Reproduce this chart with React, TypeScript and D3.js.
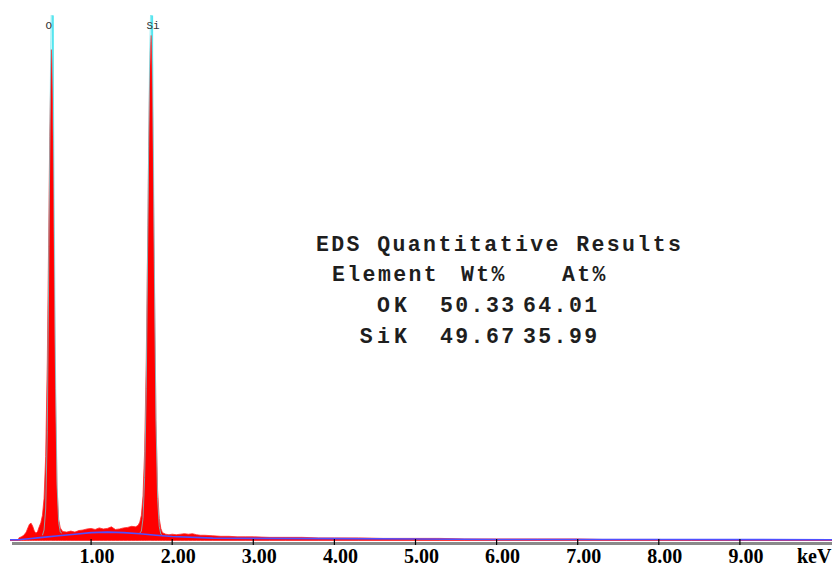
import React from "react";
import * as d3 from "d3";

// Spectrum (energy in keV, counts in arbitrary units)
const energyKeV = [
  0.0, 0.1, 0.11, 0.14, 0.17, 0.2, 0.22, 0.24, 0.26, 0.28, 0.3, 0.32, 0.34, 0.36, 0.38,
  0.4, 0.42, 0.44, 0.46, 0.48, 0.49, 0.5, 0.505, 0.51, 0.515, 0.52, 0.53, 0.54, 0.56, 0.58, 0.6, 0.62, 0.65,
  0.7, 0.75, 0.8, 0.85, 0.9, 0.95, 1.0, 1.05, 1.1, 1.15, 1.2, 1.25, 1.3, 1.35, 1.4, 1.45,
  1.5, 1.55, 1.58, 1.6, 1.62, 1.64, 1.66, 1.68, 1.7, 1.71, 1.72, 1.73, 1.735, 1.74, 1.745, 1.75, 1.76, 1.78,
  1.8, 1.82, 1.84, 1.86, 1.88, 1.92, 1.96, 2.0, 2.05, 2.1, 2.15, 2.2, 2.25, 2.3, 2.35,
  2.4, 2.5, 2.6, 2.7, 2.8, 2.9, 3.0, 3.2, 3.4, 3.6, 3.8, 4.0, 4.3, 4.6, 5.0, 5.3, 5.6,
  6.0, 6.5, 7.0, 7.3, 7.6, 8.0, 8.3, 8.4, 10.3,
];
const counts = [
  0, 0, 5, 7, 10, 16, 24, 31, 33, 27, 18, 14, 17, 26, 34,
  48, 80, 160, 340, 620, 770, 860, 905, 935, 915, 870, 770, 590, 290, 100, 40, 24, 17,
  16, 18, 16, 19, 20, 22, 23, 21, 24, 22, 23, 26, 21, 22, 24, 25,
  27, 26, 29, 35, 48, 85, 170, 340, 600, 750, 860, 930, 950, 962, 945, 900, 800, 500,
  230, 95, 42, 23, 15, 12, 11, 12, 11, 12, 13, 12, 13, 11, 10,
  10, 9, 8, 8, 7, 7, 7, 6, 6, 6, 5, 5, 5, 4, 4, 4, 3,
  3, 3, 3, 2, 2, 2, 1, 0, 0,
];

// Background fit
const bgEnergy = [0.0, 0.1, 0.2, 0.4, 0.6, 0.8, 1.0, 1.2, 1.4, 1.6, 1.8, 2.0, 2.5, 3.0, 4.0, 5.0, 6.0, 7.0, 8.0, 9.0, 10.3];
const bgCounts = [1.5, 1.5, 3, 6, 9, 12, 15, 16, 15, 13, 10, 7.5, 4.5, 4, 3.5, 3, 2, 2, 1.8, 1.6, 1.5];

// Peak fits
const fitOEnergy = [0.4, 0.42, 0.44, 0.46, 0.48, 0.5, 0.51, 0.52, 0.53, 0.54, 0.56, 0.58, 0.6, 0.62, 0.64];
const fitOCounts = [10, 20, 60, 210, 560, 910, 1020, 1050, 980, 760, 340, 110, 34, 16, 14];
const fitSiEnergy = [1.6, 1.62, 1.64, 1.66, 1.68, 1.7, 1.72, 1.74, 1.76, 1.78, 1.8, 1.82, 1.84, 1.86, 1.88];
const fitSiCounts = [14, 18, 42, 120, 290, 600, 900, 1060, 900, 530, 230, 80, 27, 12, 9];

// Element markers
const elementLabels = ["O", "Si"];
const elementEnergies = [0.515, 1.74];

// Axis
const tickValues = [1, 2, 3, 4, 5, 6, 7, 8, 9];
const axisUnit = "keV";

// Results table
const resultsTitle = "EDS Quantitative Results";
const headers = ["Element", "Wt%", "At%"];
const elementNames = ["OK", "SiK"];
const wtPct = ["50.33", "49.67"];
const atPct = ["64.01", "35.99"];

const W = 832;
const H = 566;

export default function App() {
  const x = d3.scaleLinear().domain([0, 10]).range([10, 821]);
  const y = d3.scaleLinear().domain([0, 1000]).range([540.5, 15.5]);

  const spec = energyKeV.map((e, i) => [e, counts[i]] as [number, number]);
  const area = d3
    .area<[number, number]>()
    .x((d) => x(d[0]))
    .y0(y(0))
    .y1((d) => y(d[1]));
  const line = d3
    .line<[number, number]>()
    .x((d) => x(d[0]))
    .y((d) => y(d[1]));

  const bg = bgEnergy.map((e, i) => [e, bgCounts[i]] as [number, number]);
  const fitO = fitOEnergy.map((e, i) => [e, fitOCounts[i]] as [number, number]);
  const fitSi = fitSiEnergy.map((e, i) => [e, fitSiCounts[i]] as [number, number]);

  const labelOffsets = [-3, 2];
  const mono = "'Liberation Mono', 'DejaVu Sans Mono', monospace";
  const serif = "'Liberation Serif', 'Times New Roman', serif";

  const tStyle = {
    fontFamily: mono,
    fontWeight: 700,
    fontSize: 21.5,
    letterSpacing: 2.4,
    fill: "#1e1e1e",
  } as React.CSSProperties;

  return (
    <div style={{ position: "absolute", left: 0, top: 0 }}>
      <svg width={W} height={H} style={{ display: "block", background: "#fff" }}>
        <defs>
          <clipPath id="plotClip">
            <rect x={0} y={15} width={W} height={530} />
          </clipPath>
        </defs>
        <g clipPath="url(#plotClip)">
          {elementEnergies.map((e, i) => (
            <line
              key={"m" + i}
              x1={x(e) + 1}
              x2={x(e) + 1}
              y1={y(1000)}
              y2={y(0)}
              stroke="#4fe6f0"
              strokeWidth={2}
            />
          ))}
          <path d={area(spec) || ""} fill="#ff0000" stroke="#ff2a2a" strokeWidth={0.8} />
          <path d={line(fitO) || ""} fill="none" stroke="#62e4ec" strokeWidth={0.7} />
          <path d={line(fitSi) || ""} fill="none" stroke="#62e4ec" strokeWidth={0.7} />
          <path d={line(bg) || ""} fill="none" stroke="#4f4fff" strokeWidth={1.6} />
        </g>
        {elementLabels.map((l, i) => (
          <text
            key={"l" + i}
            x={x(elementEnergies[i]) + labelOffsets[i]}
            y={29}
            textAnchor="middle"
            style={{ fontFamily: mono, fontSize: 11, fill: "#333" }}
          >
            {l}
          </text>
        ))}

        {/* x axis */}
        <rect x={12} y={542} width={W - 12} height={3} fill="#8a8a8a" />
        {tickValues.map((t) => (
          <g key={t}>
            <line x1={x(t)} x2={x(t)} y1={539} y2={545} stroke="#000" strokeWidth={1.2} />
            <text
              x={x(t) + 6}
              y={563}
              textAnchor="middle"
              style={{ fontFamily: serif, fontWeight: 700, fontSize: 20, fill: "#000" }}
            >
              {t.toFixed(2)}
            </text>
          </g>
        ))}
        <text x={797} y={563} style={{ fontFamily: serif, fontWeight: 700, fontSize: 20, fill: "#000" }}>
          {axisUnit}
        </text>

        {/* results table */}
        <text x={316} y={251} style={tStyle}>{resultsTitle}</text>
        <text x={332} y={281} style={tStyle}>{headers[0]}</text>
        <text x={461} y={281} style={tStyle}>{headers[1]}</text>
        <text x={562} y={281} style={tStyle}>{headers[2]}</text>
        {elementNames.map((n, i) => (
          <g key={n}>
            <text x={407} y={312 + i * 31} textAnchor="end" style={{ ...tStyle, letterSpacing: 0 }}>
              {n.split("").join("\u2009")}
            </text>
            <text x={440} y={312 + i * 31} style={tStyle}>{wtPct[i]}</text>
            <text x={523} y={312 + i * 31} style={tStyle}>{atPct[i]}</text>
          </g>
        ))}
      </svg>
    </div>
  );
}
